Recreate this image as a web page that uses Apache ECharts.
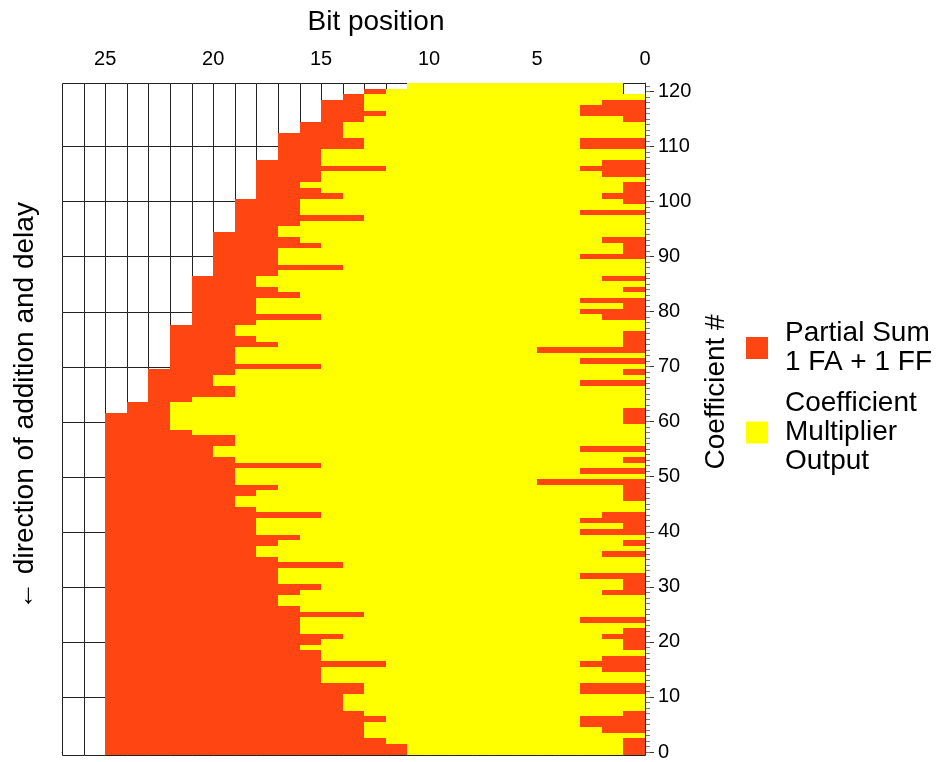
<!DOCTYPE html>
<html>
<head>
<meta charset="utf-8">
<script src="https://cdn.jsdelivr.net/npm/echarts@6/dist/echarts.min.js"></script>
<style>
  html, body { margin: 0; padding: 0; background: #fff; }
  #chart { width: 939px; height: 762px; }
</style>
</head>
<body>
<div id="chart"></div>
<script>
// one entry per coefficient, index 0 = bottom row
// low bits that go straight to the partial sum (orange at the right)
const lowOrange = [
  1, 1, 1, 0, 2, 3, 3, 1, 0, 0,
  0, 3, 3, 0, 0, 2, 3, 2, 0, 1,
  1, 2, 1, 0, 3, 0, 0, 0, 0, 2,
  1, 1, 3, 0, 0, 0, 2, 0, 1, 0,
  3, 1, 3, 2, 0, 0, 1, 1, 1, 5,
  0, 3, 0, 1, 0, 3, 0, 0, 0, 0,
  1, 1, 1, 0, 0, 0, 0, 3, 0, 1,
  0, 3, 0, 5, 1, 1, 1, 0, 0, 2,
  3, 1, 3, 0, 1, 0, 2, 0, 0, 0,
  3, 1, 1, 2, 0, 0, 0, 0, 3, 0,
  1, 2, 1, 1, 0, 2, 3, 2, 0, 0,
  3, 3, 0, 0, 0, 1, 3, 3, 2, 0,
  0, 0
];
// first bit above the coefficient multiplier output (end of yellow)
const yellowTop = [
  11, 11, 12, 13, 13, 13, 12, 13, 14, 14,
  14, 13, 13, 15, 15, 15, 12, 15, 15, 16,
  15, 14, 16, 16, 16, 13, 16, 17, 17, 16,
  15, 17, 17, 17, 14, 17, 18, 18, 17, 16,
  18, 18, 18, 15, 18, 19, 19, 18, 17, 19,
  19, 19, 15, 19, 20, 20, 19, 19, 21, 22,
  22, 22, 22, 22, 21, 19, 19, 20, 20, 19,
  15, 19, 19, 19, 17, 18, 19, 19, 18, 15,
  18, 18, 18, 16, 17, 18, 18, 17, 14, 17,
  17, 17, 15, 16, 17, 17, 16, 13, 16, 16,
  16, 14, 15, 16, 15, 15, 12, 15, 15, 15,
  13, 13, 14, 14, 14, 13, 12, 13, 13, 13,
  12, 11
];
// width of the partial sum word (end of orange)
const sumTop = [
  25, 25, 25, 25, 25, 25, 25, 25, 25, 25,
  25, 25, 25, 25, 25, 25, 25, 25, 25, 25,
  25, 25, 25, 25, 25, 25, 25, 25, 25, 25,
  25, 25, 25, 25, 25, 25, 25, 25, 25, 25,
  25, 25, 25, 25, 25, 25, 25, 25, 25, 25,
  25, 25, 25, 25, 25, 25, 25, 25, 25, 25,
  25, 25, 24, 24, 23, 23, 23, 23, 23, 23,
  22, 22, 22, 22, 22, 22, 22, 22, 21, 21,
  21, 21, 21, 21, 21, 21, 21, 20, 20, 20,
  20, 20, 20, 20, 20, 19, 19, 19, 19, 19,
  19, 18, 18, 18, 18, 18, 18, 18, 17, 17,
  17, 17, 17, 16, 16, 15, 15, 15, 15, 14,
  13, 11
];
// rows where bit 0 is left empty
const emptyBit0 = [120, 121];

const bitTicks = [0, 5, 10, 15, 20, 25];
const coefTicks = [0, 10, 20, 30, 40, 50, 60, 70, 80, 90, 100, 110, 120];

const ORANGE = '#ff4511';
const YELLOW = '#ffff00';
const FONT = '"Liberation Sans", Arial, sans-serif';
const nBits = 27;
const nRows = sumTop.length;

const orangeCells = [];
const yellowCells = [];
sumTop.forEach(function (top, row) {
  const lo = lowOrange[row];
  const hi = yellowTop[row];
  if (lo > 0) orangeCells.push([row, 0, lo]);
  const start = emptyBit0.indexOf(row) >= 0 ? 1 : lo;
  yellowCells.push([row, start, hi]);
  if (top > hi) orangeCells.push([row, hi, top]);
});

// empty register cells behind the data: 1 bit x 10 coefficients
const blockEdges = [-0.5, 10, 20, 30, 40, 50, 60, 70, 80, 90, 100, 110, nRows - 0.5];
const gridCells = [];
for (let b = 0; b < nBits; b++) {
  for (let k = 0; k < blockEdges.length - 1; k++) {
    gridCells.push([b, blockEdges[k], blockEdges[k + 1]]);
  }
}
const minorTicks = [];
for (let i = 0; i < nRows; i++) minorTicks.push(i);

// snap to whole pixels so neighbouring rows meet without seams
function rectFrom(p0, p1) {
  const x0 = Math.round(Math.min(p0[0], p1[0]));
  const x1 = Math.round(Math.max(p0[0], p1[0]));
  const y0 = Math.round(Math.min(p0[1], p1[1]));
  const y1 = Math.round(Math.max(p0[1], p1[1]));
  return {x: x0, y: y0, width: x1 - x0, height: y1 - y0};
}

function renderCell(params, api) {
  const row = api.value(0);
  const p0 = api.coord([api.value(1), row - 0.5]);
  const p1 = api.coord([api.value(2), row + 0.5]);
  return {
    type: 'rect',
    shape: rectFrom(p0, p1),
    style: {fill: api.visual('color')}
  };
}

function renderBlock(params, api) {
  const b = api.value(0);
  const p0 = api.coord([b, api.value(1)]);
  const p1 = api.coord([b + 1, api.value(2)]);
  const r = rectFrom(p0, p1);
  return {
    type: 'rect',
    shape: {x: r.x + 0.5, y: r.y + 0.5, width: r.width, height: r.height},
    style: {fill: '#fff', stroke: '#222', lineWidth: 1}
  };
}

const chart = echarts.init(document.getElementById('chart'), null, {renderer: 'canvas'});
const option = {
  animation: false,
  backgroundColor: '#fff',
  textStyle: {fontFamily: FONT},
  grid: {left: 62, right: 294, top: 83, bottom: 4},
  legend: {
    orient: 'vertical',
    left: 741,
    top: 314,
    itemWidth: 22,
    itemHeight: 22,
    itemGap: 12,
    icon: 'rect',
    selectedMode: false,
    textStyle: {fontSize: 28, lineHeight: 29, color: '#000', fontFamily: FONT, padding: [0, 0, 0, 12]},
    data: ['Partial Sum\n1 FA + 1 FF', 'Coefficient\nMultiplier\nOutput']
  },
  xAxis: {
    type: 'value',
    position: 'top',
    inverse: true,
    min: 0,
    max: nBits,
    name: 'Bit position',
    nameLocation: 'middle',
    nameGap: 47,
    nameTextStyle: {fontSize: 28, color: '#000', fontFamily: FONT, padding: [0, 0, 0, 45]},
    axisLine: {lineStyle: {color: '#999'}},
    axisTick: {customValues: bitTicks, length: 8, lineStyle: {color: '#555'}},
    axisLabel: {customValues: bitTicks, fontSize: 20, color: '#000', margin: 14, fontFamily: FONT},
    splitLine: {show: false}
  },
  yAxis: [{
    type: 'value',
    position: 'right',
    min: -0.5,
    max: nRows - 0.5,
    name: 'Coefficient #',
    nameLocation: 'middle',
    nameRotate: 90,
    nameGap: 51,
    nameTextStyle: {fontSize: 28, color: '#000', fontFamily: FONT, padding: [0, 0, 0, 54]},
    axisLine: {show: true, lineStyle: {color: '#444'}},
    axisTick: {show: true, customValues: coefTicks, length: 9, lineStyle: {color: '#333'}},
    axisLabel: {customValues: coefTicks, fontSize: 20, color: '#000', margin: 13, fontFamily: FONT},
    splitLine: {show: false}
  }, {
    type: 'value',
    position: 'right',
    min: -0.5,
    max: nRows - 0.5,
    axisLine: {show: false},
    axisTick: {show: true, customValues: minorTicks, length: 5, lineStyle: {color: '#777'}},
    axisLabel: {show: false},
    splitLine: {show: false}
  }],
  graphic: [{
    type: 'text',
    x: 25,
    y: 406,
    rotation: Math.PI / 2,
    style: {
      text: '\u2190 direction of addition and delay',
      font: '28px ' + FONT,
      fill: '#000',
      align: 'center',
      verticalAlign: 'middle'
    }
  }],
  series: [{
    type: 'custom',
    name: 'registers',
    renderItem: renderBlock,
    encode: {x: 0, y: [1, 2]},
    data: gridCells,
    silent: true,
    z: 1
  }, {
    type: 'custom',
    name: 'Partial Sum\n1 FA + 1 FF',
    renderItem: renderCell,
    encode: {x: [1, 2], y: 0},
    itemStyle: {color: ORANGE},
    data: orangeCells,
    z: 2
  }, {
    type: 'custom',
    name: 'Coefficient\nMultiplier\nOutput',
    renderItem: renderCell,
    encode: {x: [1, 2], y: 0},
    itemStyle: {color: YELLOW},
    data: yellowCells,
    z: 2
  }]
};
chart.setOption(option);
</script>
</body>
</html>
